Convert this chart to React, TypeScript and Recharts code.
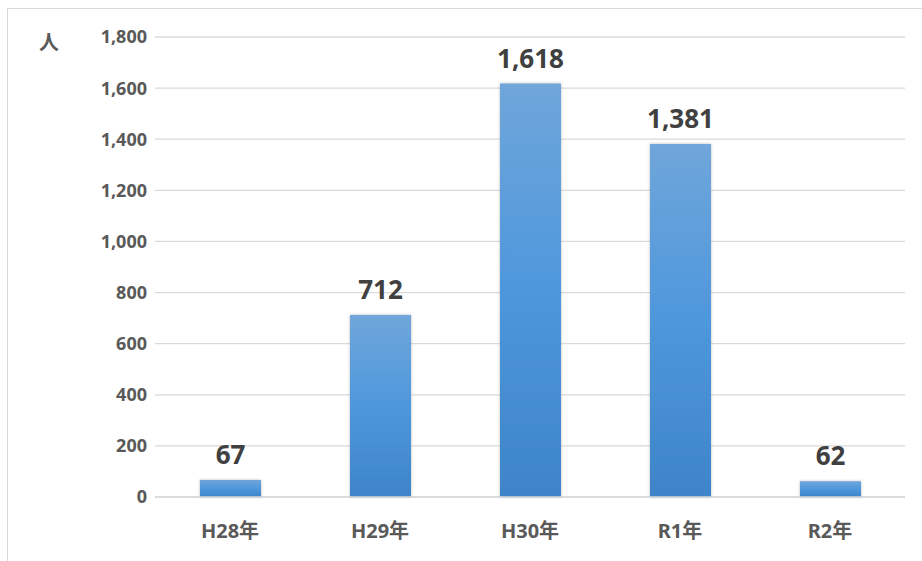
import React from "react";
import {
  BarChart,
  Bar,
  XAxis,
  YAxis,
  CartesianGrid,
  LabelList,
} from "recharts";

const years = ["H28年", "H29年", "H30年", "R1年", "R2年"];
const people = [67, 712, 1618, 1381, 62];
const yTicks = [0, 200, 400, 600, 800, 1000, 1200, 1400, 1600, 1800];

const data = years.map((year, i) => ({ year, people: people[i] }));

const font = "'Noto Sans', 'Noto Sans CJK JP', sans-serif";

const App: React.FC = () => (
  <div
    style={{
      position: "absolute",
      left: 7,
      top: 8,
      width: 915,
      height: 553,
      borderLeft: "1px solid #d9d9d9",
      borderTop: "1px solid #d9d9d9",
      background: "#fff",
      fontFamily: font,
    }}
  >
    <div
      style={{
        position: "absolute",
        left: 31,
        top: 18,
        fontSize: 20,
        fontWeight: 700,
        color: "#595959",
      }}
    >
      人
    </div>
    <BarChart
      width={914}
      height={552}
      data={data}
      margin={{ top: 28, right: 17, left: 0, bottom: 14 }}
    >
      <defs>
        <linearGradient id="barFill" x1="0" y1="0" x2="0" y2="1">
          <stop offset="0%" stopColor="#6fa6da" />
          <stop offset="50%" stopColor="#4e97dc" />
          <stop offset="100%" stopColor="#3e84c8" />
        </linearGradient>
        <filter id="barShadow" x="-10%" y="-10%" width="120%" height="120%">
          <feDropShadow dx="0" dy="0" stdDeviation="1.5" floodColor="#8c8c8c" floodOpacity="0.6" />
        </filter>
      </defs>
      <CartesianGrid vertical={false} stroke="#d9d9d9" strokeWidth={1.3} />
      <XAxis
        dataKey="year"
        height={50}
        axisLine={{ stroke: "#d9d9d9", strokeWidth: 1.3 }}
        tickLine={false}
        tickMargin={21}
        tick={{ fill: "#595959", fontSize: 20, fontWeight: 700, fontFamily: font }}
      />
      <YAxis
        width={147}
        domain={[0, 1800]}
        ticks={yTicks}
        axisLine={false}
        tickLine={false}
        tickFormatter={(v: number) => v.toLocaleString("en-US")}
        tick={{ fill: "#595959", fontSize: 18, fontWeight: 700, fontFamily: font }}
      />
      <Bar
        dataKey="people"
        fill="url(#barFill)"
        barSize={61}
        filter="url(#barShadow)"
        isAnimationActive={false}
      >
        <LabelList
          dataKey="people"
          position="top"
          offset={16}
          formatter={(v: number) => v.toLocaleString("en-US")}
          style={{ fill: "#404040", fontSize: 26, fontWeight: 700, fontFamily: font }}
        />
      </Bar>
    </BarChart>
  </div>
);

export default App;
